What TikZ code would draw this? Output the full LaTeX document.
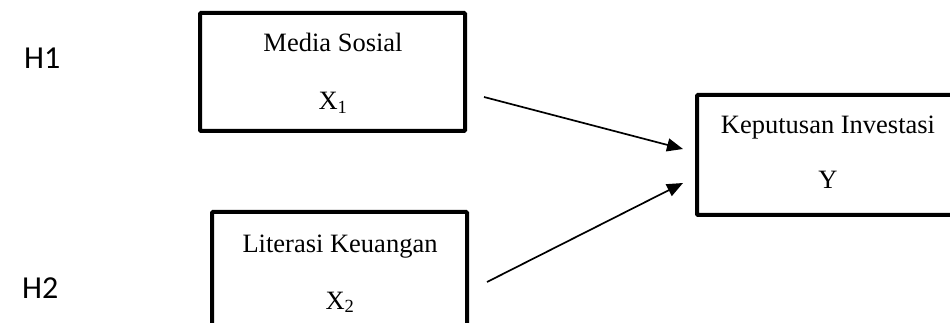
\documentclass[tikz,border=0pt]{standalone}
\usepackage{fontspec}
\setmainfont{Liberation Serif}
\newfontfamily\hfont{Carlito}
\usetikzlibrary{arrows.meta}
\begin{document}
\begin{tikzpicture}[x=1pt,y=-1pt,
  varbox/.style={draw,line width=4pt,rounded corners=1pt,inner sep=0pt},
  vartext/.style={font=\fontsize{26.5}{30}\selectfont,inner sep=0pt,anchor=base},
  hyp/.style={font=\hfont\fontsize{32}{36}\selectfont,inner sep=0pt,anchor=base west},
  link/.style={line width=1.7pt,-{Triangle[length=16pt,width=13pt]}}]
  \useasboundingbox (0,0) rectangle (950,323);
  \clip (0,0) rectangle (950,323);

  % hypothesis labels
  \node[hyp] (h1) at (24,69) {H1};
  \node[hyp] (h2) at (22,298) {H2};

  % variable boxes
  \node[varbox,minimum width=265pt,minimum height=118pt] (xa) at (332.5,72) {};
  \node[varbox,minimum width=255pt,minimum height=120pt] (xb) at (339.5,272) {};
  \node[varbox,minimum width=260pt,minimum height=120pt] (y) at (827,155) {};

  % box captions
  \node[vartext] (xat) at (333,52) {Media Sosial};
  \node[vartext] (xas) at (333,110) {X\textsubscript{1}};
  \node[vartext] (xbt) at (340,252) {Literasi Keuangan};
  \node[vartext] (xbs) at (340,309) {X\textsubscript{2}};
  \node[vartext] (yt) at (828,134) {Keputusan Investasi};
  \node[vartext] (ys) at (828,189) {Y};

  % paths into the dependent variable
  \coordinate (s1) at ([xshift=17pt,yshift=-25pt]xa.east);
  \coordinate (t1) at ([xshift=-12pt,yshift=6pt]y.west);
  \coordinate (s2) at ([xshift=18pt,yshift=-10pt]xb.east);
  \coordinate (t2) at ([xshift=-12pt,yshift=-28pt]y.west);
  \draw[link] (s1) -- (t1);
  \draw[link] (s2) -- (t2);
\end{tikzpicture}
\end{document}
